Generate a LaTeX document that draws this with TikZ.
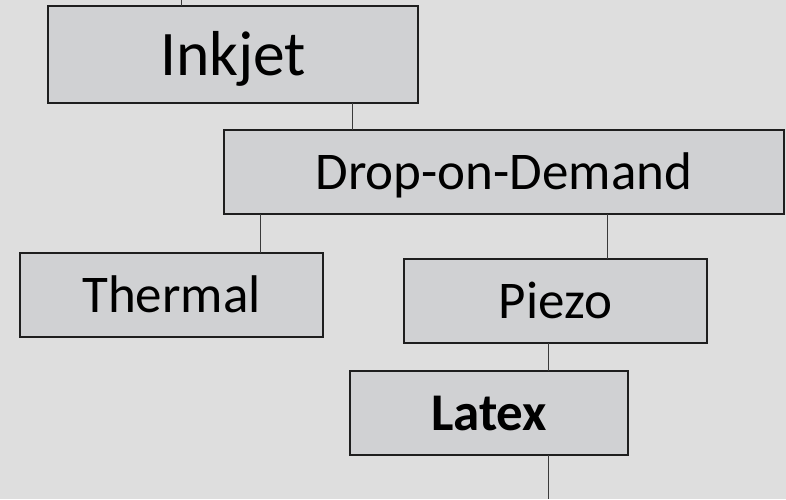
\documentclass[tikz,border=0pt]{standalone}
\usepackage{fontspec}
\setmainfont{Carlito}
\definecolor{bgcol}{HTML}{DEDEDE}
\definecolor{boxfill}{HTML}{D0D1D3}
\definecolor{boxedge}{HTML}{1E1E1E}
\definecolor{linkcol}{HTML}{3A3A3A}
\tikzset{
  chartbox/.style={draw=boxedge, fill=boxfill, line width=1.6pt, inner sep=0pt, outer sep=0pt},
  biglabel/.style={font=\fontsize{63.5}{63.5}\selectfont, text height=41pt, text depth=0pt},
  midlabel/.style={font=\fontsize{53}{53}\selectfont, text height=34pt, text depth=0pt},
  link/.style={draw=linkcol, line width=0.9pt}
}
\begin{document}
\begin{tikzpicture}[x=1pt,y=-1pt]
\fill[bgcol] (0,0) rectangle (786,499);
\useasboundingbox (0,0) rectangle (786,499);
% boxes
\node[chartbox, biglabel, minimum width=370pt, minimum height=97pt] (inkjet) at (233,54.5) {Inkjet};
\node[chartbox, midlabel, minimum width=560pt, minimum height=84pt] (dod) at (504,172) {Drop-on-Demand};
\node[chartbox, midlabel, minimum width=303pt, minimum height=84pt] (thermal) at (171.5,295) {Thermal};
\node[chartbox, midlabel, minimum width=303pt, minimum height=84pt] (piezo) at (555.5,301) {Piezo};
\node[chartbox, midlabel, minimum width=278pt, minimum height=84pt] (latex) at (489,413) {\bfseries Latex};
% free ends
\coordinate (topend) at (181,0);
\coordinate (botend) at (548,499);
% connectors
\draw[link] (topend) -- (topend |- inkjet.north);
\draw[link] (352,0 |- inkjet.south) -- (352,0 |- dod.north);
\draw[link] (260,0 |- dod.south) -- (260,0 |- thermal.north);
\draw[link] (607,0 |- dod.south) -- (607,0 |- piezo.north);
\draw[link] (548,0 |- piezo.south) -- (548,0 |- latex.north);
\draw[link] (botend |- latex.south) -- (botend);
\end{tikzpicture}
\end{document}
